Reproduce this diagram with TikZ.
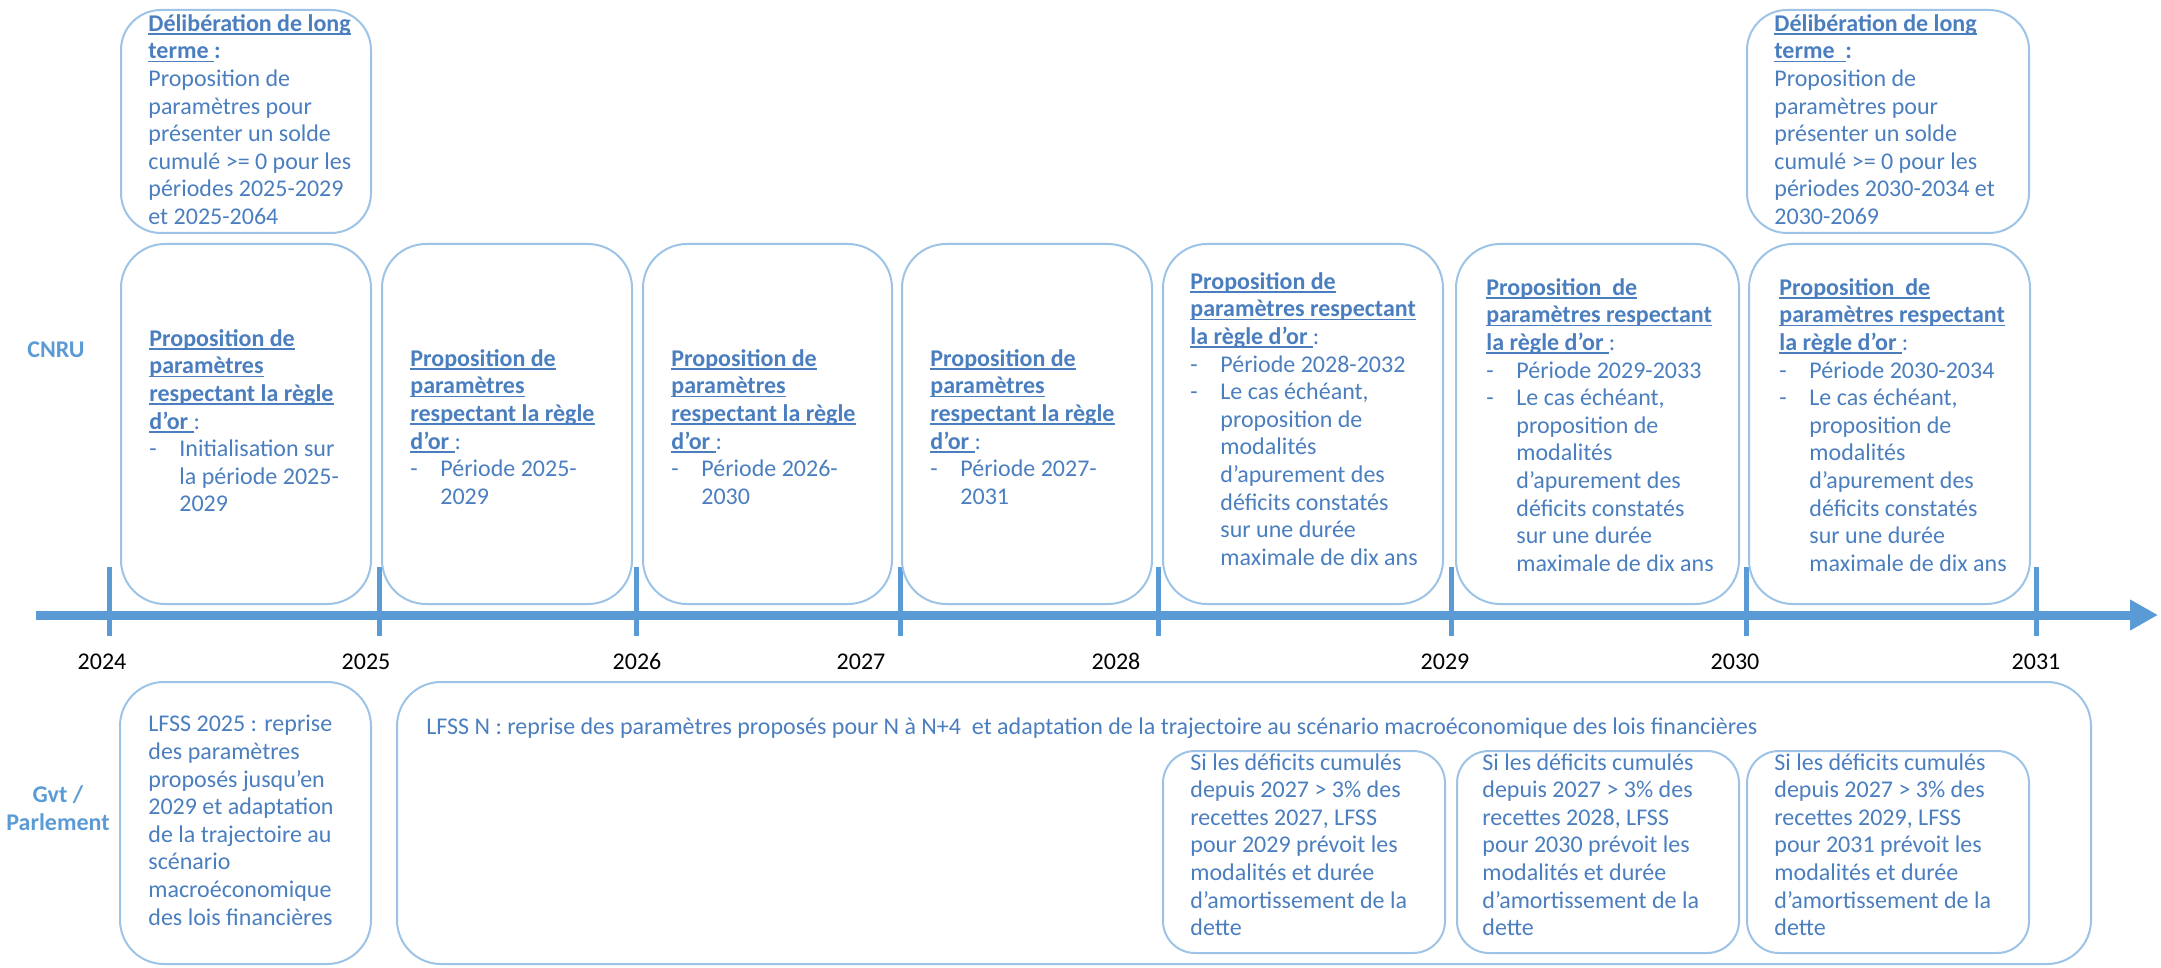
\documentclass[tikz,border=0pt]{standalone}
\usepackage{fontspec}
\setmainfont{Carlito}
\usetikzlibrary{arrows.meta,positioning,fit}
\definecolor{ink}{HTML}{4A7EBF}
\definecolor{sky}{HTML}{5B9BD5}
\definecolor{pale}{HTML}{9DC3E6}
\newcommand{\hd}[1]{\textbf{\setbox0\hbox{#1}\rlap{\rule[-1.8pt]{\wd0}{0.9pt}}\box0}}
\newcommand{\bul}{\makebox[15pt][l]{-}}
\newcommand{\indt}{\hspace*{15pt}}
\tikzset{cbox/.style={draw=pale,line width=1pt,rounded corners=22pt,inner sep=0pt},
  txt/.style={text=ink,align=left,inner sep=0pt,anchor=north west,
    font=\fontsize{12}{13.8}\selectfont,execute at begin node=\strut},
  yearlbl/.style={font=\fontsize{12}{13.8}\selectfont,anchor=base},
  actor/.style={text=sky,font=\fontsize{12}{13.8}\selectfont\bfseries,align=center},
  yeartick/.style={draw=sky,line width=2.5pt},
  axisline/.style={draw=sky,line width=4.5pt,-{Triangle[length=14pt,width=14.5pt]}}}

\begin{document}
\begin{tikzpicture}[x=0.5pt,y=-0.5pt]
\useasboundingbox (0,0) rectangle (2161,968);
\coordinate (a0) at (36,615);
\coordinate (a1) at (2158,615);
\draw[axisline] (a0) -- (a1);
\foreach \x/\lx/\yr in {109/102/2024,379/366/2025,636/637/2026,900/861/2027,
  1158/1116/2028,1451/1445/2029,1746/1735/2030,2036/2036/2031}{
 \draw[yeartick] (\x,567) -- (\x,636);
 \node[yearlbl] (y\yr) at (\lx,669) {\yr};}

\node[actor,anchor=base] (cnru) at (56,357) {CNRU};
\node[actor] (gvt) at (58,808) {Gvt /\\Parlement};

\foreach \n/\a/\b in {1/121/371,2/382/632,3/643/892,4/902/1152,5/1163/1443,6/1456/1739,7/1749/2030}{
 \node[cbox,fit={(\a,244) (\b,604)}] (c\n) {};}
\node[cbox,rounded corners=20pt,fit={(121,10) (371,233)}] (dl) {};
\node[cbox,rounded corners=20pt,fit={(1747,10) (2029,233)}] (dr) {};
\node[cbox,fit={(120,682) (371,964)}] (g1) {};
\node[cbox,fit={(397,682) (2091,964)}] (gn) {};
\foreach \n/\a/\b in {1/1163/1445,2/1457/1739,3/1747/2029}{
 \node[cbox,rounded corners=16pt,fit={(\a,751) (\b,953)}] (s\n) {};}

\node[txt] (dlt) at ([shift={(28,5)}]dl.north west) {\hd{Délibération de long}\\\hd{terme\ }\textbf{:}\\Proposition de\\paramètres pour\\présenter un solde\\cumulé >= 0 pour les\\périodes 2025-2029\\et 2025-2064};
\node[txt] (drt) at ([shift={(28,5)}]dr.north west) {\hd{Délibération de long}\\\hd{terme\ \ }\textbf{:}\\Proposition de\\paramètres pour\\présenter un solde\\cumulé >= 0 pour les\\périodes 2030-2034 et\\2030-2069};

\node[txt] (t1) at ([shift={(29,86)}]c1.north west) {\hd{Proposition de}\\\hd{paramètres}\\\hd{respectant la règle}\\\hd{d’or\ }:\\\bul Initialisation sur\\\indt la période 2025-\\\indt 2029};
\foreach \n/\p/\q in {2/2025/2029,3/2026/2030,4/2027/2031}{
 \node[txt] (t\n) at ([shift={(29,106)}]c\n.north west) {\hd{Proposition de}\\\hd{paramètres}\\\hd{respectant la règle}\\\hd{d’or\ }:\\\bul Période \p-\\\indt \q};}
\node[txt] (t5) at ([shift={(28,29)}]c5.north west) {\hd{Proposition de}\\\hd{paramètres respectant}\\\hd{la règle d’or\ }:\\\bul Période 2028-2032\\\bul Le cas échéant,\\\indt proposition de\\\indt modalités\\\indt d’apurement des\\\indt déficits constatés\\\indt sur une durée\\\indt maximale de dix ans};
\foreach \n/\p/\q in {6/2029/2033,7/2030/2034}{
 \node[txt] (t\n) at ([shift={(31,35)}]c\n.north west) {\hd{Proposition\ \ de}\\\hd{paramètres respectant}\\\hd{la règle d’or\ }:\\\bul Période \p-\q\\\bul Le cas échéant,\\\indt proposition de\\\indt modalités\\\indt d’apurement des\\\indt déficits constatés\\\indt sur une durée\\\indt maximale de dix ans};}

\node[txt] (g1t) at ([shift={(29,34)}]g1.north west) {LFSS 2025 : reprise\\des paramètres\\proposés jusqu’en\\2029 et adaptation\\de la trajectoire au\\scénario\\macroéconomique\\des lois financières};
\node[txt] (gnt) at ([shift={(30,34)}]gn.north west) {LFSS N : reprise des paramètres proposés pour N à N+4\ \ et adaptation de la trajectoire au scénario macroéconomique des lois financières};
\foreach \n/\dx/\rc/\lf in {1/28/2027/2029,2/26/2028/2030,3/28/2029/2031}{
 \node[txt] (st\n) at ([shift={(\dx,3)}]s\n.north west) {Si les déficits cumulés\\depuis 2027 > 3\% des\\recettes \rc, LFSS\\pour \lf{} prévoit les\\modalités et durée\\d’amortissement de la\\dette};}
\end{tikzpicture}
\end{document}
